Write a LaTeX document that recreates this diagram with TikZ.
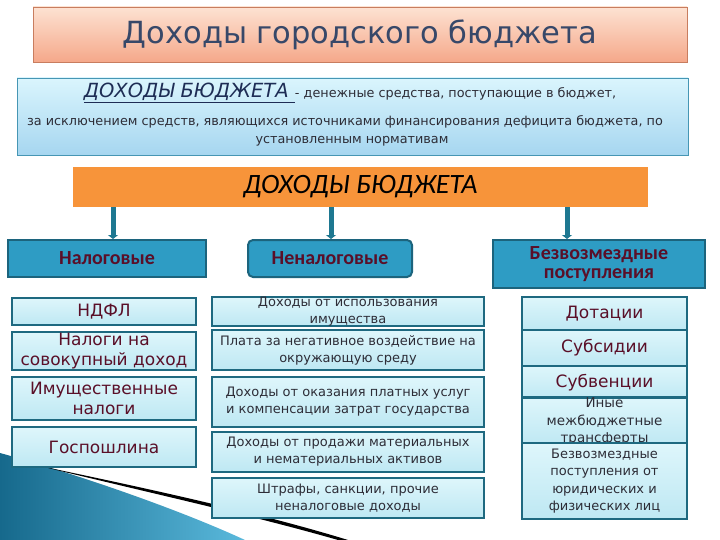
\documentclass[tikz,border=0pt]{standalone}
\usepackage{fontspec}
\setmainfont{DejaVu Sans}
\newfontfamily\carl{Carlito}
\usetikzlibrary{arrows.meta}
\definecolor{titletop}{RGB}{253,226,210}
\definecolor{titlebot}{RGB}{245,168,138}
\definecolor{titleline}{RGB}{200,125,95}
\definecolor{titletext}{RGB}{55,72,105}
\definecolor{deftop}{RGB}{218,245,253}
\definecolor{defbot}{RGB}{166,214,240}
\definecolor{defline}{RGB}{70,150,180}
\definecolor{navy}{RGB}{30,45,85}
\definecolor{txtgray}{RGB}{45,45,55}
\definecolor{orangebar}{RGB}{247,148,58}
\definecolor{conncol}{RGB}{30,120,145}
\definecolor{catfill}{RGB}{46,156,196}
\definecolor{catline}{RGB}{28,100,125}
\definecolor{maroon}{RGB}{90,15,40}
\definecolor{lowtop}{RGB}{222,246,251}
\definecolor{lowbot}{RGB}{190,232,243}
\definecolor{lowline}{RGB}{30,105,128}
\definecolor{swdark}{RGB}{22,105,140}
\definecolor{swlight}{RGB}{90,185,220}
\begin{document}
\begin{tikzpicture}[x=1pt,y=-1pt,
  titlebox/.style={draw=titleline,line width=0.8pt,top color=titletop,bottom color=titlebot,inner sep=0pt,text=titletext,font=\fontsize{30.5}{34}\selectfont},
  defbox/.style={draw=defline,line width=0.8pt,top color=deftop,bottom color=defbot,inner sep=0pt},
  deftxt/.style={inner sep=0pt,anchor=base,text=txtgray,font=\fontsize{12.8}{15}\selectfont},
  barbox/.style={fill=orangebar,inner sep=0pt,text=black,font=\carl\itshape\fontsize{28}{30}\selectfont},
  catbox/.style={draw=catline,line width=2pt,fill=catfill,inner sep=0pt,align=center,text=maroon,font=\carl\bfseries\fontsize{20}{19}\selectfont},
  lowbox/.style={draw=lowline,line width=2.5pt,top color=lowtop,bottom color=lowbot,inner sep=0pt,align=center},
  bigred/.style={text=maroon,font=\fontsize{17}{20}\selectfont},
  midtxt/.style={text=txtgray,font=\fontsize{13}{17}\selectfont},
  smalltxt/.style={text=txtgray,font=\fontsize{13.5}{17.5}\selectfont},
  conn/.style={draw=conncol,line width=5pt,-{Triangle[width=10pt,length=4pt]}}
]
\useasboundingbox (0,0) rectangle (720,540);
\fill[white] (0,0) rectangle (720,540);
% decorative swoosh
\shade[left color=swdark,right color=swlight] (0,453) .. controls (80,475) and (180,510) .. (245,540) -- (0,540) -- cycle;
\fill[black] (40,466) .. controls (150,489) and (260,513) .. (348,540) -- (338,540) .. controls (255,516) and (150,493) .. (40,466) -- cycle;
% title
\node[titlebox,minimum width=654pt,minimum height=55pt] (title) at (360,34.5) {Доходы городского бюджета};
% definition
\node[defbox,minimum width=671pt,minimum height=77pt] (def) at (352.5,116.5) {};
\node[deftxt] (def1) at (350,98) {{\color{navy}\itshape\fontsize{19.5}{22}\selectfont\underline{ДОХОДЫ БЮДЖЕТА }}- денежные средства, поступающие в бюджет,};
\node[deftxt] (def2) at (345,126) {за исключением средств, являющихся источниками финансирования дефицита бюджета, по};
\node[deftxt] (def3) at (352,144) {установленным нормативам};
% orange bar
\node[barbox,minimum width=575pt,minimum height=40pt] (bar) at (360.5,187) {ДОХОДЫ БЮДЖЕТА};
% categories
\node[catbox,minimum width=198pt,minimum height=37pt] (nal) at (107,258.5) {Налоговые};
\node[catbox,rounded corners=5pt,minimum width=164pt,minimum height=37pt] (nenal) at (330,258.5) {Неналоговые};
\node[catbox,minimum width=212pt,minimum height=48pt] (bezv) at (599,264) {Безвозмездные\\поступления};
% connectors
\draw[conn] ([xshift=6pt]nal.north |- bar.south) -- ([xshift=6pt]nal.north);
\draw[conn] ([xshift=1pt]nenal.north |- bar.south) -- ([xshift=1pt]nenal.north);
\draw[conn] ([xshift=-32pt]bezv.north |- bar.south) -- ([xshift=-32pt]bezv.north);
% left column
\node[lowbox,bigred,minimum width=184pt,minimum height=27pt] (ndfl) at (104,311.5) {НДФЛ};
\node[lowbox,bigred,minimum width=184pt,minimum height=38pt] (sov) at (104,351) {Налоги на\\совокупный доход};
\node[lowbox,bigred,minimum width=184pt,minimum height=43pt] (imu) at (104,398.5) {Имущественные\\налоги};
\node[lowbox,bigred,minimum width=184pt,minimum height=40pt] (gos) at (104,447) {Госпошлина};
% middle column
\node[lowbox,midtxt,minimum width=272pt,minimum height=27pt] (m1) at (348,311.5) {Доходы от использования\\имущества};
\node[lowbox,midtxt,minimum width=272pt,minimum height=40pt] (m2) at (348,350) {Плата за негативное воздействие на\\окружающую среду};
\node[lowbox,midtxt,minimum width=272pt,minimum height=50pt] (m3) at (348,402) {Доходы от оказания платных услуг\\и компенсации затрат государства};
\node[lowbox,midtxt,minimum width=272pt,minimum height=40pt] (m4) at (348,452) {Доходы от продажи материальных\\и нематериальных активов};
\node[lowbox,midtxt,minimum width=272pt,minimum height=40pt] (m5) at (348,498) {Штрафы, санкции, прочие\\неналоговые доходы};
% right column
\node[lowbox,bigred,minimum width=165pt,minimum height=33pt] (r1) at (604.5,313.5) {Дотации};
\node[lowbox,bigred,minimum width=165pt,minimum height=36pt] (r2) at (604.5,348) {Субсидии};
\node[lowbox,bigred,minimum width=165pt,minimum height=34pt] (r3) at (604.5,383) {Субвенции};
\node[lowbox,smalltxt,minimum width=165pt,minimum height=43pt] (r4) at (604.5,421.5) {Иные\\межбюджетные\\трансферты};
\node[lowbox,smalltxt,font=\fontsize{13}{17.5}\selectfont,minimum width=165pt,minimum height=76pt] (r5) at (604.5,481) {Безвозмездные\\поступления от\\юридических и\\физических лиц};
\end{tikzpicture}
\end{document}
